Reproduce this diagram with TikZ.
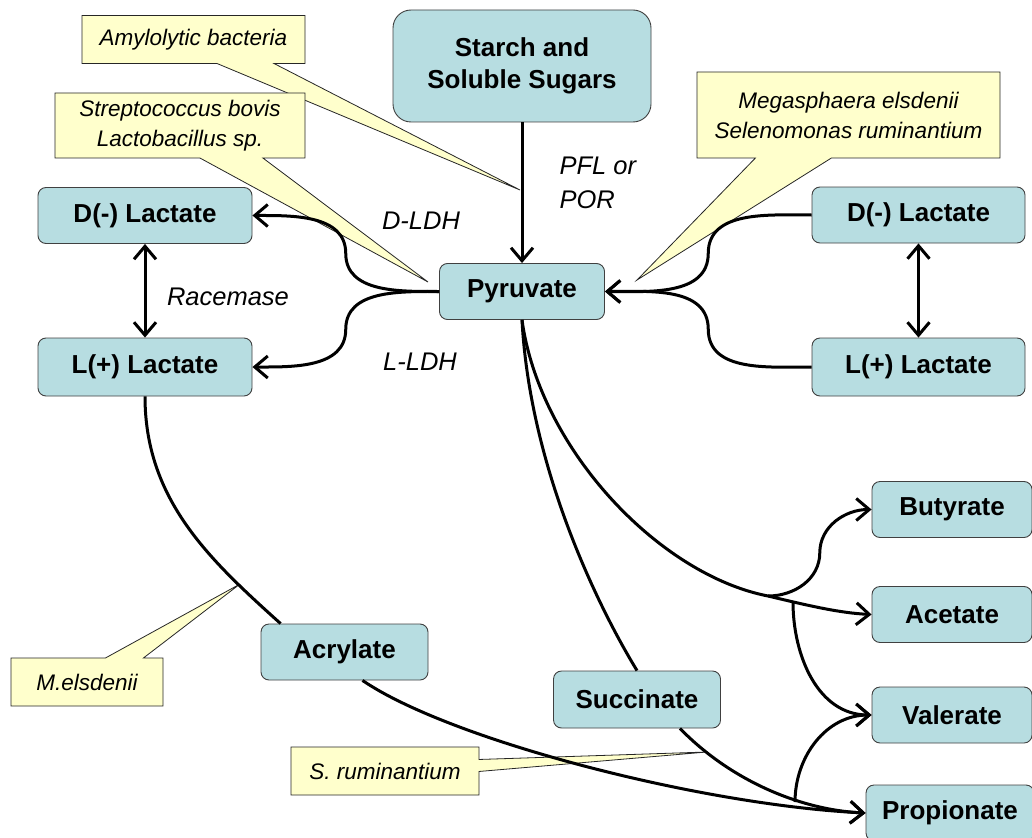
\documentclass[tikz,border=0pt]{standalone}
\usepackage{fontspec}
\setmainfont{Liberation Sans}
\usetikzlibrary{arrows.meta,shapes.callouts,calc}
\definecolor{boxteal}{RGB}{183,221,225}
\definecolor{noteyellow}{RGB}{255,255,204}

\begin{document}
\begin{tikzpicture}[x=1pt,y=-1pt,
    metab/.style={draw=black!75,line width=0.9pt,fill=boxteal,rounded corners=8pt,inner sep=0pt,
        minimum height=56pt,font=\fontsize{26}{32}\selectfont\bfseries,align=center},
    note/.style={rectangle callout,draw=black!85,line width=0.8pt,fill=noteyellow,inner sep=0pt,
        minimum height=48pt,font=\fontsize{22.5}{30}\selectfont\itshape,align=center},
    enz/.style={font=\fontsize{25.5}{34}\selectfont\itshape,align=left},
    link/.style={line width=3pt},
    flow/.style={link,-{Straight Barb[length=13pt,width=22pt]}},
    twoway/.style={link,{Straight Barb[length=13pt,width=22pt]}-{Straight Barb[length=13pt,width=22pt]}}]
                    \useasboundingbox (0,0) rectangle (1032,837);
                    % where the notes point
                    \coordinate (amytip) at (520,190);
                    \coordinate (streptip) at (428,282);
                    \coordinate (megatip) at (637,280);
                    \coordinate (meltip) at (240,584);
                    \coordinate (srumtip) at (707,752);
                    \node[note,minimum width=223pt,callout absolute pointer=(amytip),callout pointer width=57pt] (amy) at (193.5,39.5) {Amylolytic bacteria};
                    \node[note,minimum width=250pt,minimum height=65pt,callout absolute pointer=(streptip),callout pointer width=63pt] (strep) at (180,125.5) {Streptococcus bovis\\Lactobacillus sp.};
                    \node[note,minimum width=303pt,minimum height=86pt,callout absolute pointer=(megatip),callout pointer width=76pt] (mega) at (848.5,115) {Megasphaera elsdenii\\Selenomonas ruminantium};
                    \node[note,minimum width=152pt,callout absolute pointer=(meltip),callout pointer width=38pt] (mels) at (87,682) {M.elsdenii};
                    \node[note,minimum width=188pt,callout absolute pointer=(srumtip),callout pointer width=12pt] (srum) at (385,771) {S. ruminantium};
                    % metabolites
                    \node[metab,minimum width=258pt,minimum height=112pt,rounded corners=18pt] (starch) at (522,66) {Starch and\\Soluble Sugars};
                    \node[metab,minimum width=165pt] (pyr) at (522,291.5) {Pyruvate};
                    \node[metab,minimum width=214pt] (dlacL) at (145,215.5) {D(-) Lactate};
                    \node[metab,minimum width=214pt,minimum height=58pt] (llacL) at (145,367) {L(+) Lactate};
                    \node[metab,minimum width=213pt] (dlacR) at (918.5,215) {D(-) Lactate};
                    \node[metab,minimum width=213pt,minimum height=58pt] (llacR) at (918.5,367) {L(+) Lactate};
                    \node[metab,minimum width=160pt] (buty) at (952,509.5) {Butyrate};
                    \node[metab,minimum width=160pt] (acet) at (952,614.5) {Acetate};
                    \node[metab,minimum width=160pt] (vale) at (952,715) {Valerate};
                    \node[metab,minimum width=168pt] (prop) at (950,813) {Propionate};
                    \node[metab,minimum width=167pt,minimum height=57pt] (succ) at (637,699.5) {Succinate};
                    \node[metab,minimum width=167pt] (acry) at (344.5,652) {Acrylate};
                    % enzymes
                    \node[enz,anchor=west] (pfl) at (556,183) {PFL or\\POR};
                    \node[enz] (dldh) at (421,221) {D-LDH};
                    \node[enz] (race) at (228,297) {Racemase};
                    \node[enz] (lldh) at (420,362) {L-LDH};
                    % pathways
                    \draw[flow] (starch) -- (pyr);
                    \draw[flow] (pyr.west) to[out=180,in=270] ($(pyr.west)!.5!(dlacL.east)$) to[out=90,in=0] (dlacL.east);
                    \draw[flow] (pyr.west) to[out=180,in=90] ($(pyr.west)!.5!(llacL.east)$) to[out=270,in=0] (llacL.east);
                    \draw[flow] (dlacR.west) to[out=180,in=90] ($(dlacR.west)!.5!(pyr.east)$) to[out=270,in=0] (pyr.east);
                    \draw[flow] (llacR.west) to[out=180,in=270] ($(llacR.west)!.5!(pyr.east)$) to[out=90,in=0] (pyr.east);
                    \draw[twoway] (dlacL) -- (llacL);
                    \draw[twoway] (dlacR) -- (llacR);
                    \coordinate (fork) at (768,596);
                    \coordinate (vtop) at (793,602);
                    \coordinate (vbot) at (795,802);
                    \draw[flow] (pyr.south) .. controls (540,450) and (660,575) .. (fork) .. controls (810,606) and (840,613) .. (acet.west);
                    \draw[flow] (fork) to[out=0,in=270] ($(fork)!.5!(buty.west)$) to[out=90,in=180] (buty.west);
                    \draw[link] (pyr.south) .. controls (530,470) and (600,610) .. (succ.north);
                    \draw[flow] ([xshift=43pt]succ.south) .. controls (730,780) and (800,810) .. (prop.west);
                    \draw[link] (llacL.south) .. controls (145,500) and (210,560) .. ([xshift=20pt]acry.north west);
                    \draw[flow] ([xshift=18pt]acry.south) .. controls (450,740) and (700,805) .. (prop.west);
                    \draw[flow] (vtop) to[out=270,in=180] (vale.west);
                    \draw[flow] (vbot) to[out=90,in=180] (vale.west);
                \end{tikzpicture}
\end{document}
